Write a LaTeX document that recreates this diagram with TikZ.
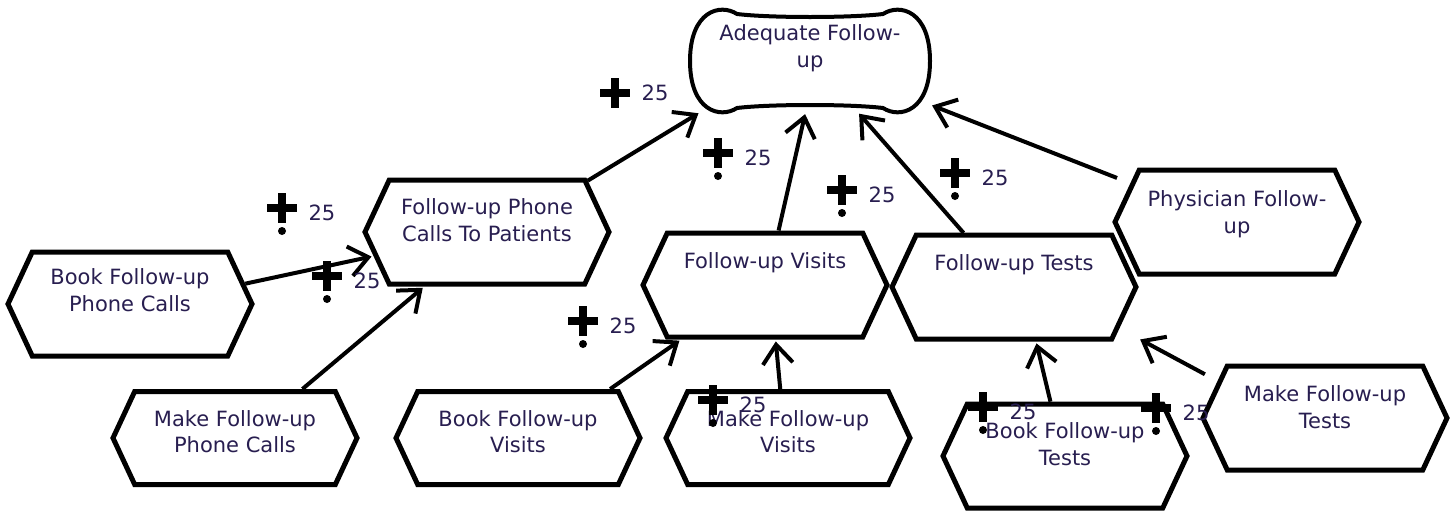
\documentclass[tikz,border=0pt]{standalone}
\usepackage{fontspec}
\setmainfont{DejaVu Sans}
\usetikzlibrary{positioning,shapes.symbols,arrows.meta}
\definecolor{textc}{RGB}{40,30,80}
\tikzset{
  task/.style={signal, signal to=west and east, signal pointer angle=130,
    draw, line width=5pt, fill=white, inner sep=0pt,
    minimum width=244pt, minimum height=104pt},
  lowtask/.style={task, minimum height=93pt},
  tasktext/.style={text=textc, align=center, inner sep=0pt,
    font=\fontsize{21}{26.5}\selectfont},
  goal/.style={rectangle, inner sep=0pt, minimum width=240pt, minimum height=102pt},
  contrib/.style={line width=4pt, shorten >=2pt, -{Straight Barb[length=19pt,width=30pt]}},
  weight/.style={text=textc, inner sep=0pt, font=\fontsize{21}{26}\selectfont},
  plusmark/.pic={
    \fill (-15,-4) rectangle (15,4);
    \fill (-4,-15) rectangle (4,15);
    \node[weight] (-w) at (40,0) {25};
  },
  plusdot/.pic={
    \fill (-15,-4) rectangle (15,4);
    \fill (-4,-15) rectangle (4,15);
    \fill (0,23) circle (4);
    \node[weight] (-w) at (40,5) {25};
  }
}
\begin{document}
\begin{tikzpicture}[x=1pt,y=-1pt]
  \useasboundingbox (0,0) rectangle (1453,512);

  % goal
  \node[goal] (adequate) at (810,61) {};
  \draw[line width=4pt, shift={(adequate.center)}]
    (-73,-47) .. controls (-90,-58) and (-120,-50) .. (-120,0)
    .. controls (-120,50) and (-90,58) .. (-73,47)
    .. controls (-40,43) and (40,43) .. (73,47)
    .. controls (90,58) and (120,50) .. (120,0)
    .. controls (120,-50) and (90,-58) .. (73,-47)
    .. controls (40,-43) and (-40,-43) .. cycle;
  \node[tasktext, below=15pt of adequate.north] (adequateTxt) {Adequate Follow-\\up};

  % tasks
  \node[task] (bookCalls) at (130,304) {};
  \node[tasktext, below=19pt of bookCalls.north] (bookCallsTxt) {Book Follow-up\\Phone Calls};
  \node[task] (callsPatients) at (487,232) {};
  \node[tasktext, below=21pt of callsPatients.north] (callsPatientsTxt) {Follow-up Phone\\Calls To Patients};
  \node[task] (visits) at (765,285) {};
  \node[tasktext, below=22pt of visits.north] (visitsTxt) {Follow-up Visits};
  \node[task] (tests) at (1014,287) {};
  \node[tasktext, below=22pt of tests.north] (testsTxt) {Follow-up Tests};
  \node[task] (physician) at (1237,222) {};
  \node[tasktext, below=23pt of physician.north] (physicianTxt) {Physician Follow-\\up};
  \node[lowtask] (makeCalls) at (235,438) {};
  \node[tasktext, below=21pt of makeCalls.north] (makeCallsTxt) {Make Follow-up\\Phone Calls};
  \node[lowtask] (bookVisits) at (518,438) {};
  \node[tasktext, below=21pt of bookVisits.north] (bookVisitsTxt) {Book Follow-up\\Visits};
  \node[lowtask] (makeVisits) at (788,438) {};
  \node[tasktext, below=21pt of makeVisits.north] (makeVisitsTxt) {Make Follow-up\\Visits};
  \node[task] (bookTests) at (1065,456) {};
  \node[tasktext, below=21pt of bookTests.north] (bookTestsTxt) {Book Follow-up\\Tests};
  \node[task] (makeTests) at (1325,418) {};
  \node[tasktext, below=22pt of makeTests.north] (makeTestsTxt) {Make Follow-up\\Tests};

  % contributions
  \draw[contrib] (bookCalls.10) -- (callsPatients.192);
  \draw[contrib] (makeCalls.36) -- (callsPatients.221);
  \draw[contrib] (callsPatients.27) -- (adequate.205);
  \draw[contrib] (visits.76) -- (adequate.265);
  \draw[contrib] (tests.133) -- (adequate.313);
  \draw[contrib, shorten <=14pt] (physician.160) -- (adequate.340);
  \draw[contrib] (bookVisits.28) -- (visits.213);
  \draw[contrib] (makeVisits.99) -- (visits.281);
  \draw[contrib] (bookTests.105) -- (tests.292);
  \draw[contrib, shorten <=14pt] (makeTests.161) -- ([xshift=30pt,yshift=3pt]tests.330);

  \pic (c1) at (615,93) {plusmark};
  \pic (c2) at (282,208) {plusdot};
  \pic (c3) at (327,276) {plusdot};
  \pic (c4) at (718,153) {plusdot};
  \pic (c5) at (842,190) {plusdot};
  \pic (c6) at (955,173) {plusdot};
  \pic (c7) at (583,321) {plusdot};
  \pic (c8) at (713,400) {plusdot};
  \pic (c9) at (983,407) {plusdot};
  \pic (c10) at (1156,408) {plusdot};
\end{tikzpicture}
\end{document}
